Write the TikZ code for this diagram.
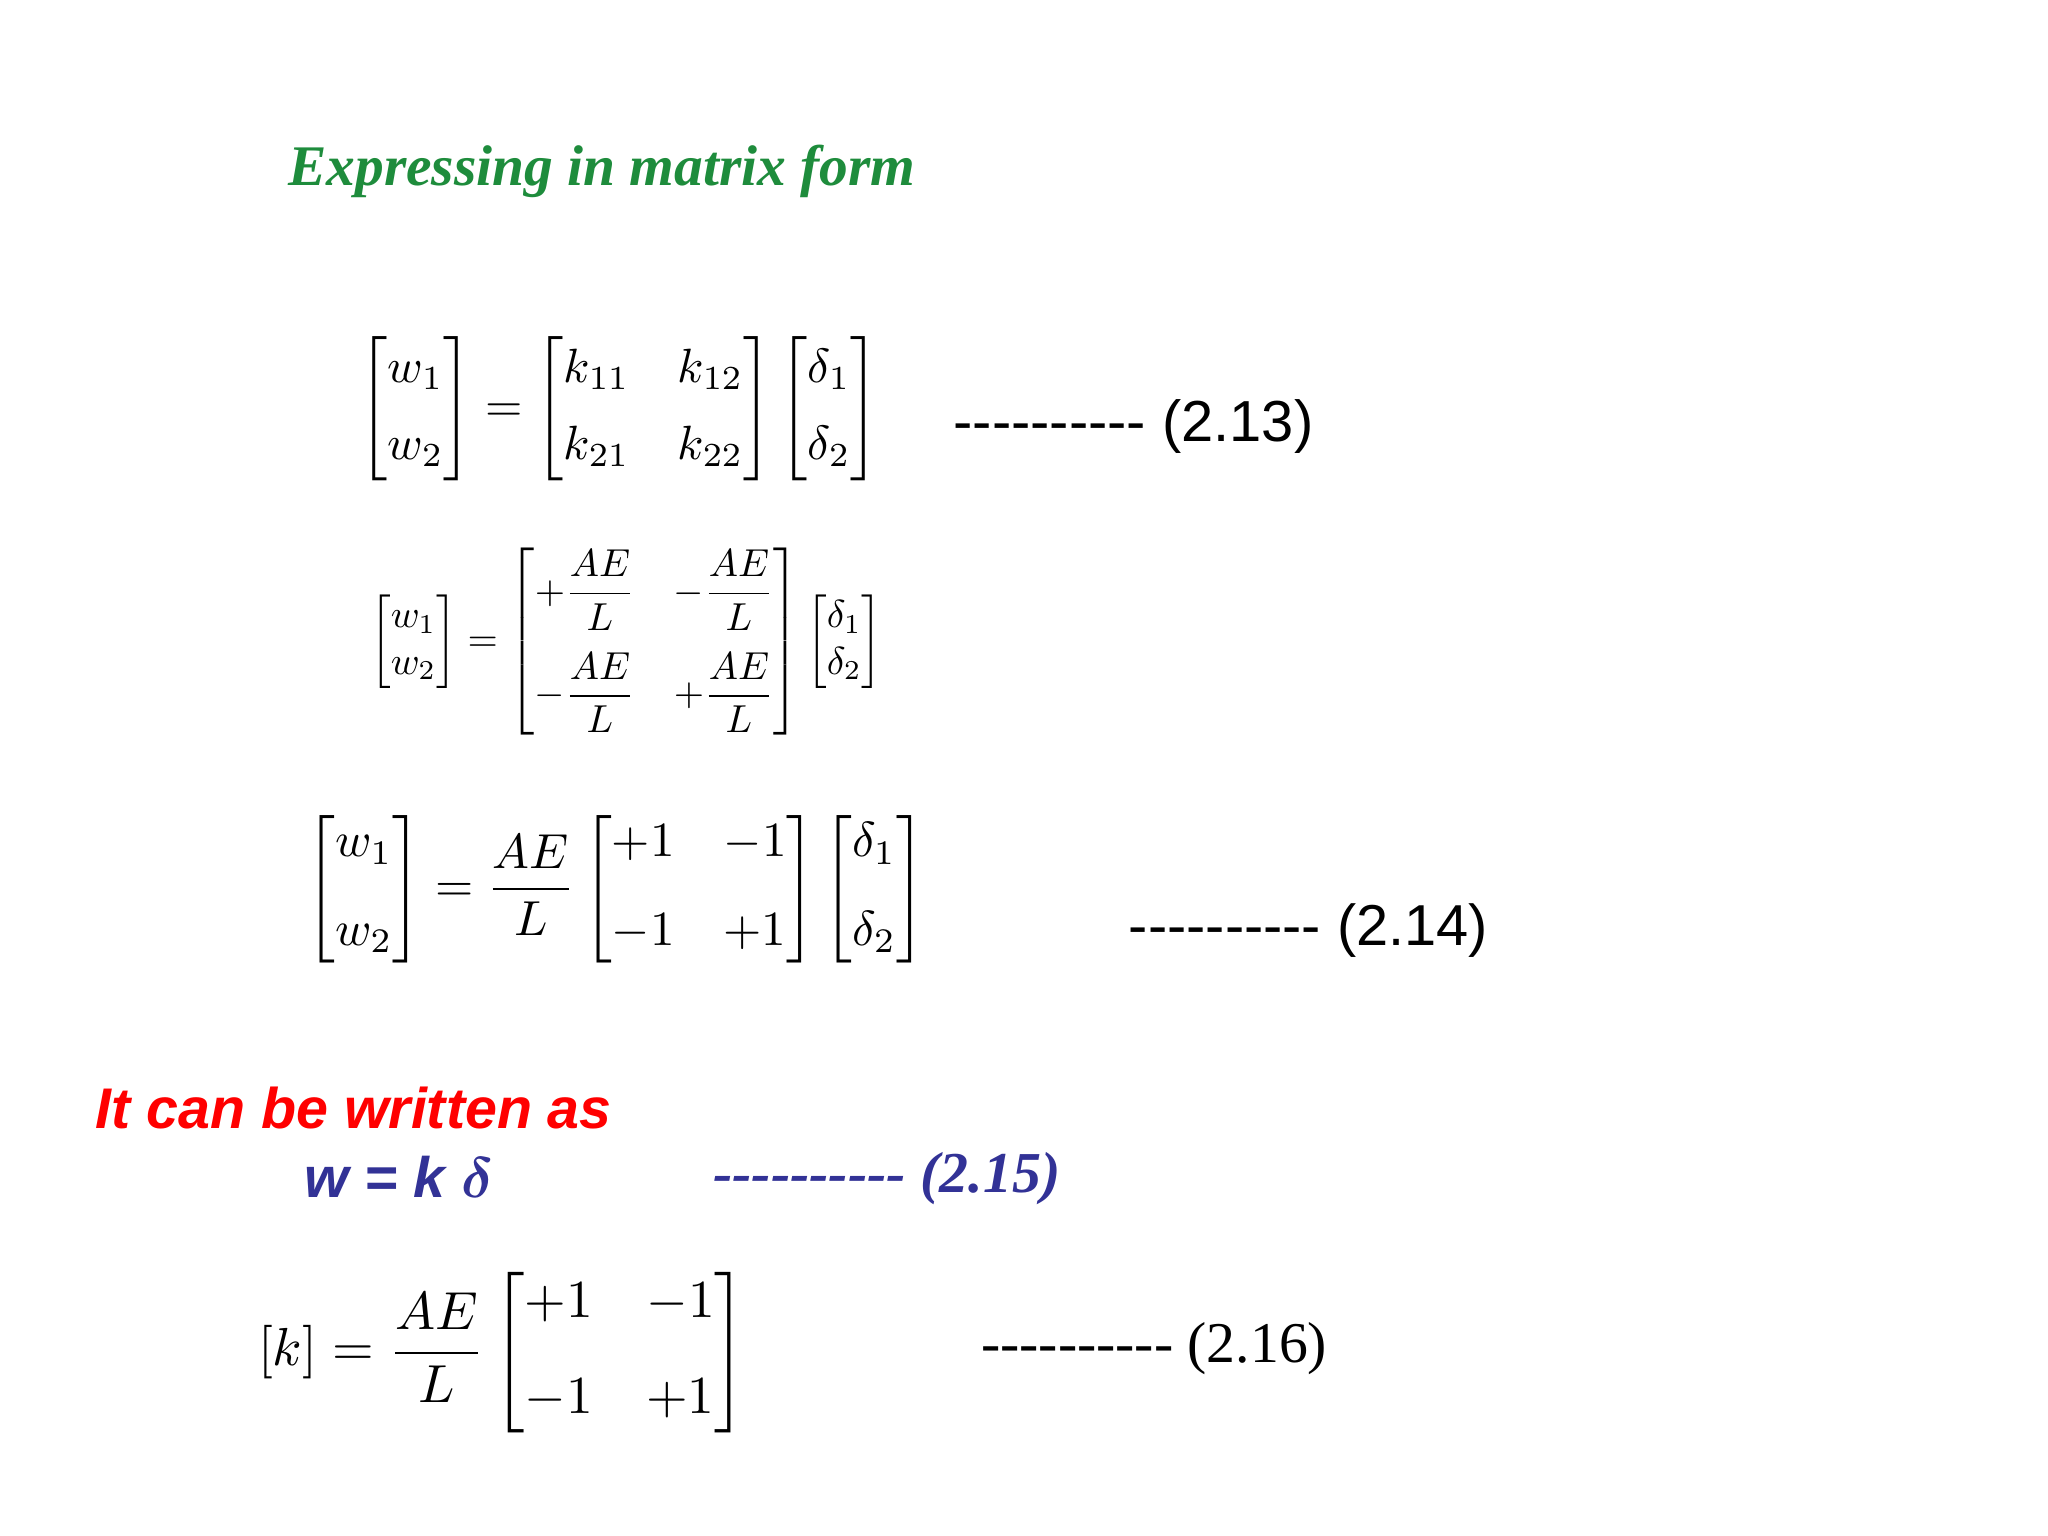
\documentclass[tikz,border=0pt]{standalone}
\usepackage{amsmath}
\usepackage{fontspec}
\setmainfont{Liberation Serif}
\setsansfont{Liberation Sans}
\definecolor{tgreen}{RGB}{30,140,60}
\definecolor{tblue}{RGB}{50,50,150}
\newcommand{\mydash}{-{}-{}-{}-{}-{}-{}-{}-{}-{}-}
\begin{document}
\begin{tikzpicture}[x=1.3196cm,y=-1.3196cm,
  lbl/.style={anchor=west,inner sep=0pt}]
\useasboundingbox (0,0) rectangle (15.52,11.64);
\node[lbl] (title) at (2.18,1.30) {\resizebox{6.27cm}{!}{\color{tgreen}\bfseries\itshape Expressing in matrix form}};
\node[lbl] (e1) at (2.72,3.10) {\resizebox{5.19cm}{!}{$\begin{bmatrix}w_1\\[4pt] w_2\end{bmatrix}=\begin{bmatrix}k_{11} & k_{12}\\[4pt] k_{21} & k_{22}\end{bmatrix}\begin{bmatrix}\delta_1\\[4pt]\delta_2\end{bmatrix}$}};
\node[lbl] (l1) at (7.22,3.23) {\resizebox{3.60cm}{!}{\sffamily \mydash\ (2.13)}};
\node[lbl] (e2) at (2.80,4.86) {\resizebox{5.12cm}{!}{$\begin{bmatrix}w_1\\ w_2\end{bmatrix}=\left[\begin{matrix}+\dfrac{AE}{L} & -\dfrac{AE}{L}\\[9pt] -\dfrac{AE}{L} & +\dfrac{AE}{L}\end{matrix}\right]\begin{bmatrix}\delta_1\\ \delta_2\end{bmatrix}$}};
\node[lbl] (e3) at (2.32,6.74) {\resizebox{6.18cm}{!}{$\begin{bmatrix}w_1\\[6pt] w_2\end{bmatrix}=\dfrac{AE}{L}\begin{bmatrix}+1 & -1\\[6pt] -1 & +1\end{bmatrix}\begin{bmatrix}\delta_1\\[6pt]\delta_2\end{bmatrix}$}};
\node[lbl] (l3) at (8.55,7.05) {\resizebox{3.59cm}{!}{\sffamily \mydash\ (2.14)}};
\node[lbl] (red) at (0.72,8.40) {\resizebox{5.16cm}{!}{\color{red}\sffamily\bfseries\itshape It can be written as}};
\node[lbl] (wkd) at (2.30,8.92) {\resizebox{1.89cm}{!}{\color{tblue}\sffamily\bfseries\itshape w = k $\boldsymbol{\delta}$}};
\node[lbl] (l5) at (5.40,8.93) {\resizebox{3.47cm}{!}{\color{tblue}\bfseries\itshape \mydash\ (2.15)}};
\node[lbl] (e4) at (1.95,10.25) {\resizebox{4.88cm}{!}{$\left[k\right]=\dfrac{AE}{L}\begin{bmatrix}+1 & -1\\[6pt] -1 & +1\end{bmatrix}$}};
\node[lbl] (l6) at (7.43,10.22) {\resizebox{3.46cm}{!}{\mydash\ (2.16)}};
\end{tikzpicture}
\end{document}
